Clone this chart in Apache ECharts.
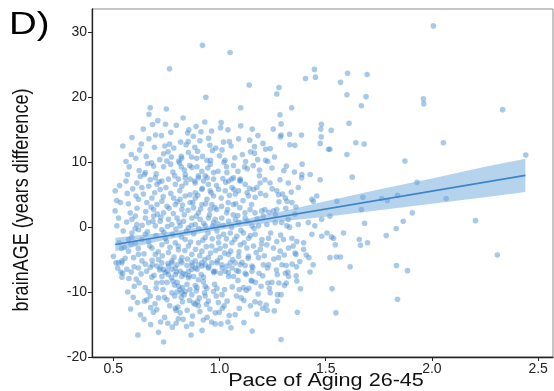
<!DOCTYPE html>
<html>
<head>
<meta charset="utf-8">
<script src="https://cdn.jsdelivr.net/npm/echarts@6/dist/echarts.min.js"></script>
<style>
  html, body { margin: 0; padding: 0; background: #fff; }
  #chart { width: 554px; height: 391px; }
</style>
</head>
<body>
<div id="chart"></div>
<script>
// Study members: [Pace of Aging 26-45, brainAGE gap in years]
const subjects = [
  [0.92,28.0],[1.05,26.9],[0.765,24.4],[1.14,21.9],[1.28,21.5],[1.27,20.5],[1.405,22.9],[1.447,24.3],[1.452,23.1],[0.936,20.0],
  [0.674,18.4],[0.668,17.4],[0.75,18.2],[1.1,18.4],[1.285,17.3],[1.34,18.4],[0.685,15.8],[0.746,15.85],[1.008,16.1],[1.29,15.9],
  [1.48,15.85],[0.89,15.5],[1.005,15.3],[1.1,15.6],[0.856,15.0],[1.154,15.1],[1.253,15.1],[1.477,15.1],[1.04,15.0],
  [2.007,31.0],[1.603,23.7],[1.695,23.5],[1.57,22.3],[1.6,20.4],[1.69,20.1],[1.668,18.7],[1.96,19.75],[1.962,19.0],[2.333,18.1],
  [1.61,16.0],[1.526,14.9],
  [1.642,13.0],[1.681,12.8],[2.054,13.0],[1.52,12.0],[1.6,11.2],[1.873,10.2],[2.442,11.1],[1.625,7.7],[1.93,6.9],[1.553,4.0],
  [1.675,4.6],[1.764,4.4],[1.79,4.1],[1.838,4.9],[2.067,4.4],[1.668,2.7],[1.908,2.2],[1.865,0.9],[2.205,1.0],[1.683,0.6],
  [1.832,-0.2],[1.584,-0.9],[1.785,-1.3],[1.527,-1.5],[1.658,-1.9],[1.545,-2.7],[1.664,-2.8],[1.697,-2.4],[1.52,-4.7],[1.55,-4.6],
  [1.57,-4.6],[2.308,-4.3],[1.615,-6.1],[1.833,-5.9],[1.885,-6.7],[1.53,-9.5],[1.838,-11.1],
  [1.548,-13.2],[1.367,-13.1],[1.29,-17.3],[1.381,-9.5],[1.426,-6.9],[1.441,-5.8],[1.36,-4.2],[1.408,-4.3],[1.421,-4.7],[1.314,-5.9],
  [1.342,-5.7],[1.363,-6.1],[1.268,-6.6],[1.31,-7.1],[1.325,-7.6],[1.361,-7.5],[1.247,-8.5],[1.28,-8.6],[1.314,-8.6],[1.364,-8.3],
  [1.306,-9.0],[1.273,-10.4],[1.29,-10.4],[1.273,-11.4],[1.239,-10.1],
  [1.204,-7.5],[1.228,-8.6],[1.196,-9.1],[1.182,-10.3],[1.153,-8.3],[1.169,-8.5],[1.113,-9.3],[1.08,-10.6],
  [0.988,-9.4],[1.024,-9.6],[1.093,-9.6],[1.126,-9.7],[0.995,-11.6],[1.022,-12.1],[1.014,-12.5],[1.093,-12.5],[1.115,-11.3],[1.146,-12.1],
  [1.167,-11.5],[1.204,-12.5],[1.22,-12.0],[1.225,-12.8],[0.98,-13.2],[0.999,-13.1],[1.046,-13.6],[0.98,-14.9],[1.007,-14.9],[1.04,-14.6],
  [1.115,-14.7],[1.054,-15.5],[1.154,-16.0],
  [0.988,-5.5],[1.011,-5.8],[1.035,-6.0],[1.051,-5.5],[1.059,-6.3],[1.098,-5.8],[1.121,-5.9],[1.153,-6.0],[1.207,-5.8],[1.231,-5.8],
  [0.98,-6.8],[1.004,-7.1],[1.027,-6.8],[1.043,-7.6],[1.066,-7.6],[1.09,-6.8],[1.121,-7.1],[1.153,-6.8],[1.087,-8.2],[1.149,-8.2],
  [0.616,-16.6],[0.737,-17.7],[0.713,-16.2],[0.676,-15.0],[0.742,-13.9],[0.757,-14.8],[0.796,-14.8],[0.806,-14.1],[0.829,-14.2],[0.87,-14.9],
  [0.866,-16.6],[0.924,-14.3],[0.942,-13.9],[0.848,-12.8],[0.676,-12.4],[0.594,-10.8],[0.614,-11.6],[0.647,-11.4],[0.658,-11.2],[0.674,-10.6],
  [0.713,-10.9],[0.741,-10.8],[0.753,-11.2],[0.792,-12.5],[0.796,-12.8],[0.804,-12.3],[0.826,-11.5],[0.886,-11.9],[0.897,-11.5],[0.878,-11.7],
  [0.901,-12.1],[0.939,-11.9],[0.948,-11.4],[0.87,-10.4],[0.905,-10.9],[0.933,-10.6],[0.972,-9.9],[0.599,-9.1],[0.622,-8.6],[0.651,-9.3],
  [0.704,-8.6],[0.729,-8.5],[0.753,-8.5],[0.781,-8.3],[0.8,-8.5],[0.682,-7.7],[0.729,-7.6],[0.76,-7.3],[0.792,-7.3],[0.776,-10.1],
  [0.8,-10.0],[0.815,-9.6],[0.823,-10.1],[0.839,-9.9],[0.82,-10.8],[0.807,-9.1],[0.826,-9.3],[0.847,-8.8],[0.886,-9.0],[0.894,-9.3],
  [0.933,-9.1],[0.941,-9.4],[0.977,-8.8],[0.854,-7.8],[0.878,-7.6],[0.901,-8.1],[0.925,-7.7],[0.544,-7.1],[0.541,-7.7],[0.564,-6.5],
  [0.585,-6.9],[0.541,-5.5],[0.619,-6.3],[0.651,-5.7],[0.674,-6.2],[0.685,-5.8],[0.706,-6.0],[0.721,-6.3],[0.737,-6.5],[0.753,-6.8],
  [0.776,-6.5],[0.792,-6.3],[0.815,-6.8],[0.823,-7.6],[0.839,-7.3],[0.854,-6.8],[0.87,-6.5],[0.886,-6.3],[0.917,-6.0],[0.948,-6.3],
  [0.972,-6.8],[0.729,-5.5],[0.776,-5.5],[0.823,-5.5],[0.87,-5.5],[0.917,-5.5],[0.964,-5.5],[0.76,-6.0],[0.8,-5.8],[0.847,-5.9],
  [0.901,-5.8],[0.933,-5.8],[0.525,-5.5],[0.536,-6.9],
  [0.56,7.1],[0.509,5.6],[0.611,6.8],[0.635,6.1],[0.607,4.8],[0.674,7.3],[0.698,7.6],[0.706,6.6],[0.729,7.1],[0.721,5.8],
  [0.76,7.4],[0.792,6.6],[0.807,7.4],[0.823,6.3],[0.839,7.6],[0.862,7.4],[0.886,6.8],[0.901,7.6],[0.925,7.1],[0.948,6.6],
  [0.972,7.4],[0.917,5.8],[0.956,5.6],[0.886,5.3],[0.619,4.3],[0.658,3.8],[0.682,4.5],[0.706,3.5],[0.69,2.7],[0.729,4.0],
  [0.753,3.2],[0.737,2.2],[0.784,4.5],[0.792,3.5],[0.815,4.3],[0.823,2.7],[0.839,4.8],[0.862,3.8],[0.878,3.0],[0.886,4.5],
  [0.901,2.2],[0.917,3.5],[0.941,4.3],[0.956,2.7],[0.972,4.8],[0.964,3.5],[0.509,2.5],[0.525,1.4],[0.517,0.2],[0.58,2.2],
  [0.588,1.2],[0.604,1.7],[0.611,0.4],[0.619,-0.4],[0.651,1.4],[0.666,0.7],[0.69,1.7],[0.698,0.2],[0.721,0.9],[0.729,-0.4],
  [0.76,1.2],[0.776,0.4],[0.8,1.4],[0.815,0.2],[0.831,0.9],[0.854,-0.1],[0.87,1.4],[0.886,0.4],[0.909,1.2],[0.933,0.2],
  [0.948,1.4],[0.972,0.7],[0.501,-4.5],[0.541,-5.2],[0.513,-5.5],[0.572,-3.7],[0.596,-4.7],[0.619,-4.2],[0.635,-5.2],[0.651,-1.1],
  [0.666,-2.2],[0.682,-3.2],[0.698,-4.2],[0.713,-5.0],[0.729,-2.7],[0.745,-1.7],[0.76,-3.9],[0.776,-5.2],[0.792,-2.4],[0.807,-3.5],
  [0.823,-4.7],[0.839,-1.9],[0.854,-2.9],[0.87,-4.2],[0.886,-5.2],[0.901,-2.4],[0.917,-3.7],[0.933,-1.6],[0.948,-4.7],[0.964,-2.9],
  [0.572,-1.9],[0.604,-2.4],[0.635,-1.9],[0.588,-0.9],
  [0.699,14.2],[0.85,14.5],[0.913,14.7],[0.949,13.7],[0.743,12.5],[0.765,12.8],[0.853,13.2],[0.624,11.9],[0.585,11.2],[0.737,11.3],
  [0.774,10.8],[0.82,10.9],[0.822,10.6],[0.854,11.5],[0.897,11.7],[0.967,11.8],[0.941,10.3],[0.958,10.3],[0.575,9.3],[0.622,8.7],
  [0.651,8.4],[0.69,9.4],[0.737,9.3],[0.77,9.7],[0.781,8.5],[0.82,9.3],[0.835,8.8],[0.86,9.5],[0.87,9.2],[0.894,9.3],
  [0.917,8.6],[0.945,9.1],[0.972,8.4],[0.567,8.1],[0.647,8.1],[0.702,8.2],[0.839,8.1],[0.901,7.9],[0.933,7.9],
  [1.181,14.1],[1.29,14.2],[1.287,13.9],[1.33,14.3],[1.386,14.2],[1.479,13.9],[1.019,13.1],[1.047,13.2],[1.474,12.9],[1.331,12.7],
  [1.355,12.6],[1.165,12.4],[1.513,12.0],[1.146,11.6],[1.165,11.4],[1.217,12.0],[1.239,12.1],[1.259,10.8],[1.0,11.0],[1.026,10.3],
  [1.021,10.0],[1.217,10.3],[1.227,10.1],[1.123,10.1],[1.389,9.7],[1.066,9.5],[1.118,9.3],[1.159,9.5],[1.247,9.1],[1.315,9.4],
  [1.303,8.7],[1.353,8.5],[1.388,8.1],[1.427,8.1],[1.188,8.8],[1.188,7.9],[0.993,8.6],[1.035,8.4],[1.087,8.6],[1.016,7.5],
  [1.058,7.4],[1.098,7.4],[1.474,7.3],
  [1.043,7.1],[1.066,7.6],[1.098,7.1],[1.121,6.6],[1.059,6.1],[1.027,5.6],[0.996,5.8],[1.09,5.6],[1.075,5.1],[1.13,5.3],
  [1.137,4.8],[1.16,5.8],[1.176,6.1],[1.191,6.8],[1.214,7.3],[1.238,6.8],[1.285,7.3],[1.324,6.8],[1.371,6.1],[1.387,7.6],
  [1.27,5.6],[1.278,5.0],[1.31,4.5],[1.318,4.0],[1.341,3.8],[1.435,4.3],[1.442,4.0],[1.458,4.8],[1.27,2.7],[1.254,2.5],
  [1.214,2.7],[1.199,2.5],[1.167,2.2],[1.144,2.7],[1.096,3.0],[1.065,3.5],[1.041,3.8],[1.01,3.2],[0.987,2.7],[1.034,2.2],
  [1.065,1.9],[0.98,1.2],[1.011,1.4],[1.043,0.9],[1.075,1.2],[1.09,0.7],[1.121,1.4],[1.153,0.2],[1.184,0.2],[1.223,0.4],
  [1.262,0.7],[1.293,0.7],[1.317,0.2],[1.371,0.4],[1.418,0.7],[1.449,0.2],[1.481,1.2],[1.52,1.7],[1.324,1.2],[1.355,2.0],
  [0.988,-0.6],[1.019,-1.1],[1.051,-0.9],[1.082,-1.4],[1.113,-0.9],[1.137,-1.7],[1.168,-1.1],[1.2,-1.9],[1.231,-1.7],[1.27,-2.2],
  [1.301,-1.9],[1.341,-1.7],[1.364,-2.2],[1.396,-2.4],[1.435,-1.1],[1.482,-1.4],[1.506,-0.9],[1.537,-1.7],[0.996,-2.4],[1.027,-2.9],
  [1.059,-2.4],[1.098,-2.7],[1.129,-3.2],[1.16,-2.9],[1.192,-3.4],[1.223,-2.7],[1.254,-3.2],[1.286,-3.7],[1.325,-3.2],[1.356,-4.0],
  [1.396,-3.4],[1.278,-4.7],[1.184,-4.7],[1.137,-4.5],[1.09,-4.5],[1.043,-4.2],[1.004,-4.7],[1.074,-5.5],[1.294,-5.8],
  // overlapping members in the crowded core
  [0.552,-3.1],[0.563,0.8],[0.571,3.6],[0.583,-2.6],[0.592,5.9],[0.598,-6.1],[0.603,-0.2],[0.612,2.9],[0.618,-3.3],[0.627,7.8],
  [0.631,-7.2],[0.636,0.3],[0.642,5.1],[0.645,-4.1],[0.653,2.4],[0.657,-6.8],[0.661,-0.7],[0.667,6.3],[0.672,-2.9],[0.678,3.1],
  [0.683,-5.1],[0.687,0.9],[0.692,-7.4],[0.695,5.3],[0.701,-1.3],[0.708,2.0],[0.712,-3.8],[0.716,7.0],[0.719,-6.6],[0.724,1.5],
  [0.731,-4.4],[0.735,4.7],[0.739,-0.8],[0.744,-7.0],[0.748,6.1],[0.751,-2.2],[0.755,0.1],[0.758,-5.6],[0.763,2.9],[0.767,-3.1],
  [0.771,5.2],[0.774,-7.8],[0.779,-1.1],[0.783,2.1],[0.786,-4.6],[0.789,7.9],[0.795,-0.3],[0.798,-6.9],[0.802,3.9],[0.806,-2.9],
  [0.81,0.8],[0.813,5.6],[0.818,-5.2],[0.821,-1.5],[0.826,3.4],[0.829,-7.1],[0.834,1.9],[0.837,-3.6],[0.842,6.8],[0.845,-0.6],
  [0.849,-4.9],[0.852,2.6],[0.857,-7.5],[0.861,5.0],[0.864,-2.3],[0.868,0.3],[0.872,-5.9],[0.875,3.8],[0.879,-1.0],[0.883,7.1],
  [0.887,-3.4],[0.891,1.7],[0.895,-6.5],[0.898,4.9],[0.903,-0.2],[0.907,-4.4],[0.911,2.8],[0.914,-7.3],[0.919,6.0],[0.922,-2.0],
  [0.926,0.6],[0.93,-5.0],[0.935,3.6],[0.938,-3.0],[0.942,7.6],[0.946,-0.9],[0.95,-6.1],[0.953,1.9],[0.958,-4.0],[0.961,5.3],
  [0.966,-1.8],[0.969,0.2],[0.974,-7.0],[0.978,3.0],[0.982,-3.6],[0.986,6.4],[0.99,-5.2],[0.994,0.5],[0.997,-1.5],[0.608,-8.0],
  [0.662,9.8],[0.702,-9.4],[0.752,10.2],[0.788,-8.9],[0.812,9.9],[0.861,-9.6],[0.893,10.6],[0.924,-8.4],[0.957,9.7],[0.528,-2.4],
  [0.534,3.8],[0.547,-0.6],[0.556,-4.8],[0.566,5.2],[0.574,-7.9],[0.587,-1.6],[0.53,6.4],[0.521,-6.3],[0.539,-3.3],[0.516,4.1],
  [1.003,-3.3],[1.008,4.5],[1.013,-6.3],[1.018,0.3],[1.024,-4.0],[1.029,6.9],[1.033,-1.8],[1.038,2.7],[1.042,-7.0],[1.047,4.9],
  [1.053,-3.7],[1.057,0.0],[1.062,-5.0],[1.068,5.8],[1.072,-1.9],[1.077,3.6],[1.081,-6.7],[1.086,1.8],[1.092,-3.8],[1.096,7.2],
  [1.101,-0.5],[1.106,-5.4],[1.111,4.1],[1.116,-2.4],[1.12,2.2],[1.126,-7.3],[1.131,0.9],[1.135,-4.8],[1.141,6.0],[1.146,-1.3],
  [1.151,3.5],[1.157,-6.2],[1.163,-0.2],[1.168,4.6],[1.173,-3.9],[1.178,1.3],[1.186,-7.1],[1.193,5.2],[1.198,-2.6],[1.206,1.7],
  [1.211,-4.4],[1.218,4.9],[1.226,-6.3],[1.233,2.3],[1.241,-0.9],[1.248,5.9],[1.256,-4.9],[1.264,1.9],[1.272,-7.3],[1.28,3.9],
  [1.288,-1.2],[1.297,5.1],[1.305,-4.3],[1.312,2.9],[1.322,-6.9],[1.33,0.0],[1.338,5.4],[1.347,-2.9],[1.36,3.1],[1.378,-5.3],
  [0.606,10.6],[0.632,12.8],[0.641,15.1],[0.655,10.9],[0.668,13.6],[0.68,9.9],[0.694,12.3],[0.71,16.4],[0.719,10.4],[0.727,14.1],
  [0.758,11.6],[0.771,14.6],[0.785,12.2],[0.797,15.7],[0.808,10.2],[0.817,13.1],[0.829,16.8],[0.843,12.7],[0.869,10.8],[0.877,14.0],
  [0.884,12.3],[0.908,13.3],[0.92,10.9],[0.931,16.2],[0.955,12.6],[0.963,14.8],[0.983,12.2],[0.588,13.8],[0.56,10.1],[0.545,12.5],
  [0.582,-12.6],[0.628,-13.5],[0.664,-9.9],[0.689,-13.1],[0.697,-11.8],[0.723,-14.6],[0.734,-9.6],[0.766,-12.1],[0.778,-15.4],[0.789,-10.6],
  [0.815,-13.2],[0.834,-10.4],[0.845,-15.3],[0.859,-11.3],[0.873,-13.7],[0.891,-9.8],[0.908,-13.0],[0.918,-15.9],[0.93,-10.1],[0.955,-12.6],
  [0.963,-14.6],[0.985,-10.6],[0.645,-14.2],[0.705,-12.7],[0.568,-10.0],
  [1.012,11.9],[1.033,9.3],[1.055,12.5],[1.072,10.7],[1.09,13.6],[1.108,11.2],[1.131,9.0],[1.142,13.4],[1.18,10.4],[1.205,12.9],
  [1.012,-10.4],[1.036,-11.4],[1.06,-9.2],[1.074,-13.5],[1.102,-10.9],[1.138,-9.4],[1.176,-13.4],[1.19,-11.7],[1.235,-9.4],[1.258,-12.9]
];

// Fitted regression line and its 95% confidence band
const fitPace = [0.51, 2.44];
const fitBrainAge = [-2.67, 7.98];
const bandPace = [0.51, 0.75, 1.0, 1.25, 1.5, 1.75, 2.0, 2.25, 2.44];
const bandLower = [-3.7, -1.9, -0.4, 0.75, 1.6, 2.6, 3.6, 4.6, 5.4];
const bandUpper = [-1.65, -0.8, 0.45, 2.1, 4.0, 5.8, 7.5, 9.3, 10.55];

const xTicks = [0.5, 1.0, 1.5, 2.0, 2.5];
const yTicks = [-20, -10, 0, 10, 20, 30];

const FONT = '"Liberation Sans", Arial, Helvetica, sans-serif';

const chart = echarts.init(document.getElementById('chart'), null, { renderer: 'canvas' });

const bandPolygon = bandPace.map((x, i) => [x, bandUpper[i]])
  .concat(bandPace.map((x, i) => [x, bandLower[i]]).reverse());

chart.setOption({
  animation: false,
  backgroundColor: '#ffffff',
  grid: {
    left: 92, right: 1, top: 9, bottom: 34,
    show: true, borderColor: '#8c8c8c', borderWidth: 1
  },
  xAxis: {
    type: 'value',
    min: 0.4, max: 2.57,
    splitLine: { show: false },
    axisLine: { show: true, onZero: false, lineStyle: { color: '#222', width: 1.3 } },
    axisTick: { show: true, length: 4, customValues: xTicks, lineStyle: { color: '#222' } },
    axisLabel: {
      customValues: xTicks, margin: 5,
      color: '#222', fontFamily: FONT, fontSize: 14,
      formatter: v => v.toFixed(1)
    }
  },
  yAxis: {
    type: 'value',
    min: -20, max: 33.6,
    splitLine: { show: false },
    axisLine: { show: true, onZero: false, lineStyle: { color: '#222', width: 1.3 } },
    axisTick: { show: true, length: 4, customValues: yTicks, lineStyle: { color: '#222' } },
    axisLabel: {
      customValues: yTicks, margin: 5,
      color: '#222', fontFamily: FONT, fontSize: 14
    }
  },
  graphic: [
    {
      type: 'text', x: 9, y: 25, scaleX: 1.2,
      style: { text: 'D)', font: '32px ' + FONT, fill: '#000', textAlign: 'left', textVerticalAlign: 'middle' }
    },
    {
      type: 'text', x: 326, y: 381, scaleX: 1.2,
      style: {
        text: 'Pace of Aging 26-45', font: '18px ' + FONT, fill: '#111',
        textAlign: 'center', textVerticalAlign: 'middle'
      }
    },
    {
      type: 'text', x: 22, y: 200, rotation: Math.PI / 2, scaleY: 1.2,
      style: {
        text: 'brainAGE (years difference)', font: '18px ' + FONT, fill: '#111',
        textAlign: 'center', textVerticalAlign: 'middle'
      }
    }
  ],
  series: [
    {
      type: 'scatter',
      data: subjects,
      symbolSize: 5.6,
      itemStyle: { color: 'rgba(70,138,208,0.58)' },
      z: 2
    },
    {
      type: 'custom',
      renderItem: (params, api) => ({
        type: 'polygon',
        shape: { points: bandPolygon.map(p => api.coord(p)) },
        style: { fill: 'rgba(110,168,222,0.5)' }
      }),
      data: [0],
      z: 3
    },
    {
      type: 'line',
      data: fitPace.map((x, i) => [x, fitBrainAge[i]]),
      showSymbol: false,
      lineStyle: { color: '#3d84c6', width: 1.7 },
      z: 4
    }
  ]
});
</script>
</body>
</html>
